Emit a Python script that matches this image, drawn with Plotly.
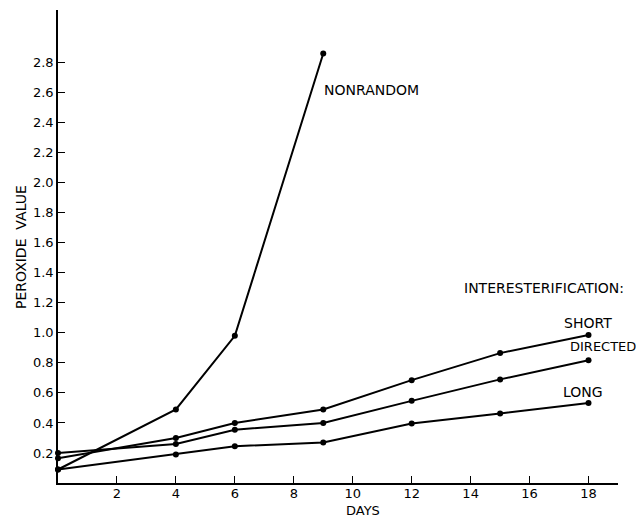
import plotly.graph_objects as go

days_nonrandom = [0, 4, 6, 9]
pv_nonrandom = [0.09, 0.49, 0.98, 2.86]

days = [0, 4, 6, 9, 12, 15, 18]
pv_short = [0.165, 0.30, 0.40, 0.49, 0.685, 0.865, 0.985]
pv_directed = [0.20, 0.26, 0.355, 0.40, 0.547, 0.69, 0.818]
pv_long = [0.09, 0.19, 0.245, 0.27, 0.396, 0.463, 0.533]

x_ticks = [2, 4, 6, 8, 10, 12, 14, 16, 18]
y_ticks = [0.2, 0.4, 0.6, 0.8, 1.0, 1.2, 1.4, 1.6, 1.8, 2.0, 2.2, 2.4, 2.6, 2.8]

FONT = "DejaVu Sans, Arial, sans-serif"

fig = go.Figure()
for xs, ys in [(days_nonrandom, pv_nonrandom), (days, pv_short), (days, pv_directed), (days, pv_long)]:
    fig.add_trace(go.Scatter(
        x=xs, y=ys, mode="lines+markers",
        line=dict(color="black", width=2),
        marker=dict(color="black", size=6),
        showlegend=False, cliponaxis=False,
    ))

ann_font = dict(family=FONT, size=14, color="black")
annotations = [
    dict(x=8.97, y=2.62, text="NONRANDOM", xanchor="left", yanchor="middle", size=14),
    dict(x=13.7, y=1.30, text="INTERESTERIFICATION:", xanchor="left", yanchor="middle", size=14),
    dict(x=17.09, y=1.063, text="SHORT", xanchor="left", yanchor="middle", size=14),
    dict(x=17.3, y=0.907, text="DIRECTED", xanchor="left", yanchor="middle", size=13),
    dict(x=17.07, y=0.607, text="LONG", xanchor="left", yanchor="middle", size=14),
]
for a in annotations:
    size = a.pop("size")
    fig.add_annotation(showarrow=False, font=dict(family=FONT, size=size, color="black"),
                       xref="x", yref="y", **a)

fig.add_annotation(x=10.35, y=-0.059, xref="x", yref="paper", text="DAYS", showarrow=False,
                   font=dict(family=FONT, size=13, color="black"), xanchor="center", yanchor="middle")
fig.add_annotation(x=-0.066, y=0.499, xref="paper", yref="paper", text="PEROXIDE  VALUE",
                   showarrow=False, font=ann_font, textangle=-90, xanchor="center", yanchor="middle")

fig.update_layout(
    width=636, height=509,
    margin=dict(l=50, r=26, t=2, b=34, autoexpand=False),
    paper_bgcolor="white", plot_bgcolor="white",
    font=dict(family=FONT, size=13, color="black"),
    xaxis=dict(range=[0, 19], tickvals=x_ticks, ticktext=[str(v) for v in x_ticks],
               showgrid=False, zeroline=False, showline=True, linecolor="black", linewidth=1.5,
               ticks="inside", ticklen=7, tickcolor="black", tickwidth=1.2, automargin=False,
               ticklabelstandoff=-2),
    yaxis=dict(range=[0, 3.15], tickvals=y_ticks, ticktext=[f"{v:.1f}" for v in y_ticks],
               showgrid=False, zeroline=False, showline=True, linecolor="black", linewidth=1.5,
               ticks="inside", ticklen=7, tickcolor="black", tickwidth=1.2, automargin=False),
)

fig.write_html("out.html")
